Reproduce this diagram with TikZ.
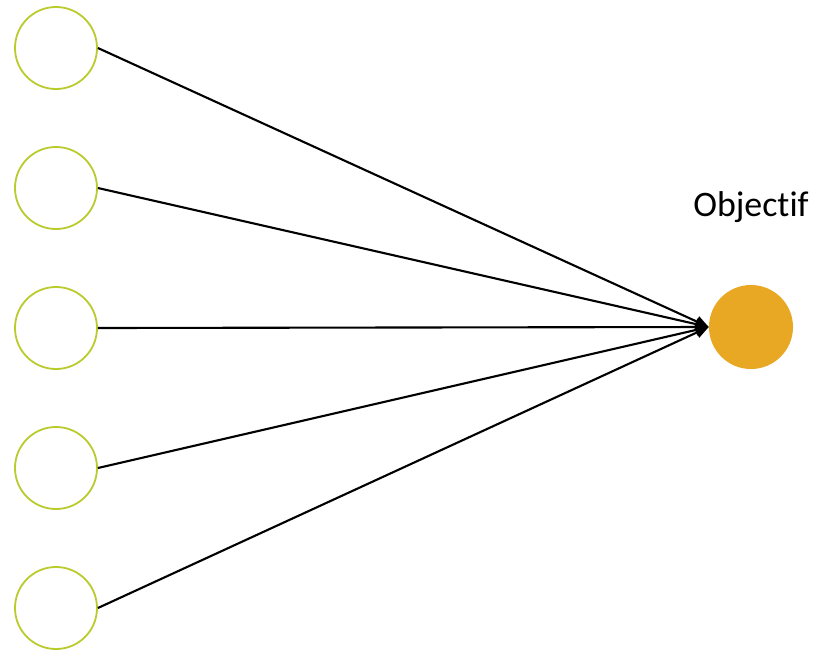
\documentclass[tikz,border=0pt]{standalone}
\usepackage{fontspec}
\setmainfont{Carlito}[Ligatures=NoCommon]
\usetikzlibrary{positioning, arrows.meta}
\definecolor{lime}{HTML}{B9CB2E}
\definecolor{amber}{HTML}{E8A823}

\begin{document}
\begin{tikzpicture}[
    x=0.025cm, y=-0.025cm,
    inp/.style={circle, draw=lime, line width=1.3pt, minimum size=2.05cm, inner sep=0pt},
    outp/.style={circle, fill=amber, minimum size=2.1cm, inner sep=0pt},
    arr/.style={-{Triangle[length=3.3mm, width=2.8mm]}, line width=1.5pt},
    every node/.style={font=\fontsize{25.5}{30}\selectfont}
]
\useasboundingbox (0,0) rectangle (818,654);

% Inputs
\node[inp] (x1) at (56,48) {};
\node[inp] (x2) at (56,188) {};
\node[inp] (x3) at (56,328) {};
\node[inp] (x4) at (56,468) {};
\node[inp] (x5) at (56,608) {};

% Output
\node[outp] (y) at (751,327) {};
\node at (751,207) {Objectif};

% Connections
\draw[arr] (x1.east) -- (y.west);
\draw[arr] (x2.east) -- (y.west);
\draw[arr] (x3.east) -- (y.west);
\draw[arr] (x4.east) -- (y.west);
\draw[arr] (x5.east) -- (y.west);

\end{tikzpicture}
\end{document}
